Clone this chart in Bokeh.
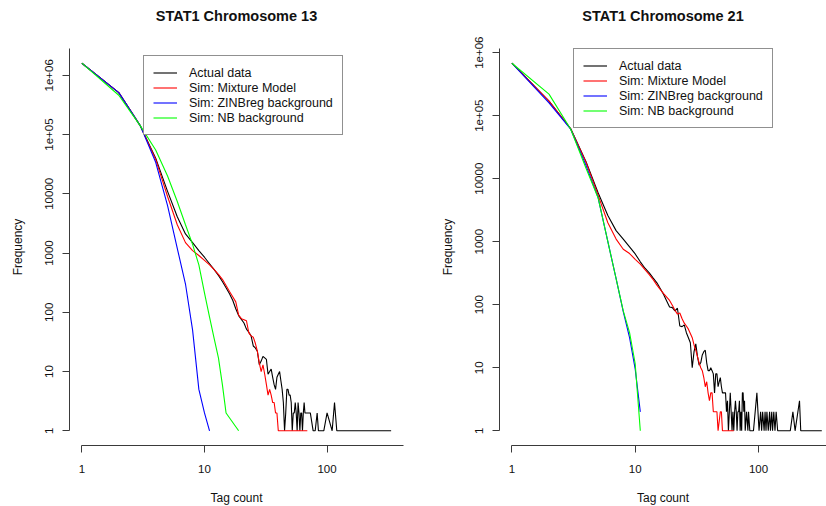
import math
from bokeh.plotting import figure
from bokeh.layouts import row
from bokeh.models import Range1d, FixedTicker, Legend, LegendItem, Title
from bokeh.embed import file_html
from bokeh.resources import INLINE

# ---------------- data ----------------
TITLES = ["STAT1 Chromosome 13", "STAT1 Chromosome 21"]
SERIES_NAMES = ["Actual data", "Sim: Mixture Model", "Sim: ZINBreg background", "Sim: NB background"]
SERIES_COLORS = ["#000000", "#ff0000", "#0000ff", "#00ff00"]
X_LABEL = "Tag count"
Y_LABEL = "Frequency"
X_TICKS = [1, 10, 100]
X_TICK_LABELS = ["1", "10", "100"]
Y_TICKS = [1, 10, 100, 1000, 10000, 100000, 1000000]
Y_TICK_LABELS = ["1", "10", "100", "1000", "10000", "1e+05", "1e+06"]

# Chromosome 13
C13_ACTUAL_X = [1, 2, 3, 4, 5, 6, 7, 8, 9, 10, 11, 12, 13, 14, 15, 16, 17, 18, 19, 20,
                21, 22, 23, 24, 25, 26, 27, 28, 29, 30, 31, 32, 33, 34, 35, 36, 37, 38, 39, 40,
                41, 42, 43, 44, 45, 46, 47, 48, 49, 50, 51, 52, 53, 54, 55, 56, 57, 58, 59, 60,
                61, 62, 63, 64, 65, 66, 67, 68, 70, 73, 77, 80, 83, 85, 94, 100, 110, 115, 120, 333]
C13_ACTUAL_Y = [1600000, 510000, 140000, 40000, 11000, 4100, 2100, 1500, 1100, 850,
                660, 525, 420, 330, 260, 205, 160, 115, 88, 76,
                66, 52, 46, 40, 27, 25, 22, 13, 15, 18, 17, 16, 9, 10, 11, 8, 6, 5, 8, 9,
                10, 7, 5, 3, 1, 2, 5, 5, 4, 4, 3, 1, 2, 2, 3, 2, 1, 3, 2, 1,
                2, 2, 1, 2, 3, 2, 2, 2, 2, 2, 1, 1, 2, 1, 1, 2, 1, 3, 1, 1]
C13_MIX_X = [1, 2, 3, 4, 5, 6, 7, 8, 9, 10, 11, 12, 13, 14, 15, 16, 17, 18, 19, 20,
             21, 22, 23, 24, 25, 26, 27, 28, 29, 30, 31, 32, 33, 34, 35, 36, 37, 38, 39, 40, 69]
C13_MIX_Y = [1600000, 510000, 140000, 38000, 9000, 3000, 1500, 1100, 910, 750,
             630, 525, 435, 360, 283, 225, 183, 150, 90, 78,
             75, 72, 45, 40, 38, 30, 22, 14, 10, 13, 9, 6, 4, 5, 4, 3, 3, 2, 2, 1, 1]
C13_ZINB_X = [1, 2, 3, 4, 5, 6, 7, 8, 9, 10, 11]
C13_ZINB_Y = [1600000, 510000, 140000, 34000, 6300, 1200, 300, 50, 5, 2, 1]
C13_NB_X = [1, 2, 3, 4, 5, 6, 7, 8, 9, 10, 11, 12, 13, 14, 15, 19]
C13_NB_Y = [1600000, 460000, 140000, 55000, 20000, 7400, 3000, 1400, 630, 213, 83, 36, 17, 6, 2, 1]

# Chromosome 21
C21_ACTUAL_X = [1, 2, 3, 4, 5, 6, 7, 8, 9, 10, 11, 12, 13, 14, 15, 16, 17, 18, 19, 20,
                21, 22, 23, 24, 25, 26, 27, 28, 29, 30, 31, 32, 33, 34, 35, 36, 37, 38, 39, 40,
                41, 42, 43, 44, 45, 46, 47, 48, 49, 50, 51, 52, 53, 54, 55, 56, 57, 58, 59, 60,
                61, 62, 63, 64, 65, 66, 67, 68, 69, 70, 71, 72, 73, 74, 75, 76, 77, 78, 80, 82,
                83, 85, 91, 97, 101, 104, 106, 108, 111, 113, 115, 117, 120, 123, 125, 128, 130, 133, 136, 139,
                143, 181, 190, 198, 215, 220, 326]
C21_ACTUAL_Y = [680000, 170000, 62000, 18500, 6000, 2600, 1500, 1100, 830, 640,
                480, 380, 320, 265, 223, 180, 145, 115, 92, 90,
                80, 88, 46, 45, 48, 36, 30, 25, 10, 18, 24, 15, 11, 12, 16, 18, 19, 12, 9, 9,
                10, 9, 8, 4, 8, 8, 5, 6, 7, 5, 4, 4, 4, 4, 2, 3, 1, 2, 4, 2,
                1, 2, 1, 2, 3, 2, 1, 2, 2, 3, 1, 2, 1, 4, 4, 2, 3, 1, 2, 1,
                2, 1, 1, 4, 1, 2, 1, 2, 1, 2, 1, 2, 1, 2, 1, 2, 1, 2, 1, 2,
                1, 1, 2, 1, 3, 1, 1]
C21_MIX_X = [1, 2, 3, 4, 5, 6, 7, 8, 9, 10, 11, 12, 13, 14, 15, 16, 17, 18, 19, 20,
             21, 22, 23, 24, 25, 26, 27, 28, 29, 30, 31, 32, 33, 34, 35, 36, 37, 38, 39, 40,
             41, 42, 43, 44, 45, 46, 47, 49, 50, 51, 63]
C21_MIX_Y = [680000, 170000, 62000, 18000, 5500, 2000, 1100, 760, 650, 525,
             440, 360, 300, 250, 205, 174, 150, 132, 117, 98,
             82, 71, 74, 60, 51, 46, 41, 35, 30, 23, 19, 15, 12, 10, 9, 7, 5, 6, 4, 3,
             4, 4, 2, 2, 2, 2, 1, 2, 2, 1, 1]
C21_ZINB_X = [1, 2, 3, 4, 5, 6, 7, 8, 9, 10, 11]
C21_ZINB_Y = [680000, 160000, 61000, 16000, 5000, 1000, 260, 78, 30, 9.5, 2]
C21_NB_X = [1, 2, 3, 4, 5, 6, 7, 8, 9, 10, 11]
C21_NB_Y = [680000, 220000, 61000, 14500, 5000, 1000, 260, 80, 36, 11.5, 1]

FONT = "Liberation Sans"
AXIS_COLOR = "#3a3a3a"
TEXT_COLOR = "#111111"


def r_usr(lo, hi):
    d = (hi - lo) * 0.04
    return lo - d, hi + d


def make_panel(title, xs, ys, border_left, frame_width, border_right, r_frame_width,
               legend_xy):
    lx_lo, lx_hi = r_usr(0.0, math.log10(max(max(x) for x in xs)))
    ly_lo, ly_hi = r_usr(0.0, math.log10(max(max(y) for y in ys)))
    # part of R's plot region that is visible in the picture
    lx_vis = lx_lo + (lx_hi - lx_lo) * frame_width / r_frame_width

    p = figure(x_axis_type="log", y_axis_type="log",
               x_range=Range1d(10 ** lx_lo, 10 ** lx_vis),
               y_range=Range1d(10 ** ly_lo, 10 ** ly_hi),
               frame_width=frame_width, frame_height=397,
               min_border_left=border_left, min_border_right=border_right,
               min_border_top=48, min_border_bottom=61,
               toolbar_location=None, output_backend="svg",
               background_fill_color="white", border_fill_color="white",
               outline_line_color=None)
    p.grid.visible = False

    renderers = []
    for x, y, c in zip(xs, ys, SERIES_COLORS):
        renderers.append(p.line(x, y, line_color=c, line_width=1.1))

    for ax in (p.xaxis[0], p.yaxis[0]):
        ax.major_tick_out = 7
        ax.major_tick_in = 0
        ax.minor_tick_line_color = None
        ax.axis_line_color = AXIS_COLOR
        ax.major_tick_line_color = AXIS_COLOR
        ax.major_label_text_font = FONT
        ax.major_label_text_font_size = "11.5px"
        ax.major_label_text_color = TEXT_COLOR
        ax.axis_label_text_font = FONT
        ax.axis_label_text_font_style = "normal"
        ax.axis_label_text_font_size = "12px"
        ax.axis_label_text_color = TEXT_COLOR

    xa = p.xaxis[0]
    xa.ticker = FixedTicker(ticks=X_TICKS)
    xa.major_label_overrides = dict(zip(X_TICKS, X_TICK_LABELS))
    xa.bounds = (1, 10 ** lx_vis)
    xa.major_label_standoff = 12
    xa.axis_label = X_LABEL
    xa.axis_label_standoff = 15

    ya = p.yaxis[0]
    ya.ticker = FixedTicker(ticks=Y_TICKS)
    ya.major_label_overrides = dict(zip(Y_TICKS, Y_TICK_LABELS))
    ya.bounds = (1, 10 ** ly_hi)
    ya.major_label_orientation = "vertical"
    ya.major_label_standoff = 9
    ya.axis_label = Y_LABEL
    ya.axis_label_standoff = 18

    items = [LegendItem(label=n, renderers=[r]) for n, r in zip(SERIES_NAMES, renderers)]
    leg = Legend(items=items, location=legend_xy, margin=0, padding=9, spacing=0,
                 glyph_width=24, glyph_height=15, label_height=15, label_standoff=12,
                 label_text_font=FONT, label_text_font_size="12.5px",
                 label_text_color=TEXT_COLOR,
                 border_line_color="#222222", border_line_width=1,
                 background_fill_color="white", background_fill_alpha=1.0)
    p.add_layout(leg)

    # an empty spacer title next to the frame pushes the real title upwards
    p.add_layout(Title(text=" ", standoff=20, text_font=FONT, text_font_size="1px"), "above")
    p.add_layout(Title(text=title, align="center", vertical_align="top", standoff=0,
                       text_font=FONT, text_font_style="bold", text_font_size="14.5px",
                       text_color=TEXT_COLOR), "above")
    return p


p1 = make_panel(TITLES[0],
                [C13_ACTUAL_X, C13_MIX_X, C13_ZINB_X, C13_NB_X],
                [C13_ACTUAL_Y, C13_MIX_Y, C13_ZINB_Y, C13_NB_Y],
                69, 334, 10, 334, (74, 310))
p2 = make_panel(TITLES[1],
                [C21_ACTUAL_X, C21_MIX_X, C21_ZINB_X, C21_NB_X],
                [C21_ACTUAL_Y, C21_MIX_Y, C21_ZINB_Y, C21_NB_Y],
                86, 327, 0, 334.7, (74, 317))

layout = row(p1, p2)
open("out.html", "w").write(file_html(layout, INLINE))
